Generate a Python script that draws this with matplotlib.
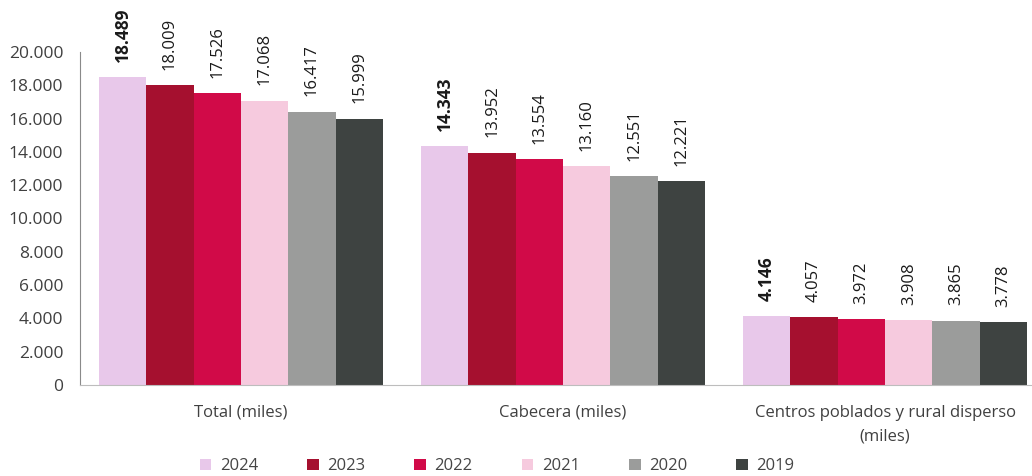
import matplotlib
matplotlib.use("Agg")
import matplotlib.pyplot as plt
import numpy as np

categories = ["Total (miles)", "Cabecera (miles)", "Centros poblados y rural disperso\n(miles)"]
years = ["2024", "2023", "2022", "2021", "2020", "2019"]
values = {
    "2024": [18489, 14343, 4146],
    "2023": [18009, 13952, 4057],
    "2022": [17526, 13554, 3972],
    "2021": [17068, 13160, 3908],
    "2020": [16417, 12551, 3865],
    "2019": [15999, 12221, 3778],
}
colors = ["#e8c8ea", "#a5102f", "#d10a48", "#f6cade", "#9b9c9b", "#3e4341"]
yticks = [0, 2000, 4000, 6000, 8000, 10000, 12000, 14000, 16000, 18000, 20000]

plt.rcParams['font.family'] = ['Open Sans', 'DejaVu Sans']
fig = plt.figure(figsize=(10.32, 4.76), dpi=100)
ax = fig.add_axes([0.0775, 0.191, 0.9225, 0.70])

def fmt(v):
    return f"{v:,}".replace(",", ".")

x = np.arange(len(categories))
w = 0.147
for i, (yr, c) in enumerate(zip(years, colors)):
    pos = x + (i - 2.5) * w
    ax.bar(pos, values[yr], width=w, color=c, label=yr)
    bold = yr == "2024"
    for p, v in zip(pos, values[yr]):
        ax.annotate(fmt(v), (p, v), xytext=(0, 11), textcoords="offset points",
                    rotation=90, ha="center", va="bottom",
                    fontsize=12.5 if bold else 12,
                    color="#1a1a1a", fontweight="bold" if bold else "normal")

ax.set_xlim(-0.5, 2.456)
ax.set_ylim(0, 20000)
ax.set_yticks(yticks)
ax.set_yticklabels([fmt(t) for t in yticks], fontsize=12.5, color="#404040")
ax.set_xticks(x)
ax.set_xticklabels(categories, fontsize=12, color="#404040", va="top", linespacing=1.7)
ax.tick_params(axis="x", length=0, pad=14)
ax.tick_params(axis="y", length=0, pad=12)
for s in ["top", "right"]:
    ax.spines[s].set_visible(False)
ax.spines["left"].set_color("#8a8a8a")
ax.spines["bottom"].set_color("#bdbdbd")

ax.legend(loc="upper center", bbox_to_anchor=(0.438, -0.175), ncol=6, frameon=False,
          fontsize=12, handlelength=0.7, handleheight=0.7, columnspacing=2.95,
          handletextpad=0.5, labelcolor="#454545")

fig.savefig("out.png", dpi=100)
